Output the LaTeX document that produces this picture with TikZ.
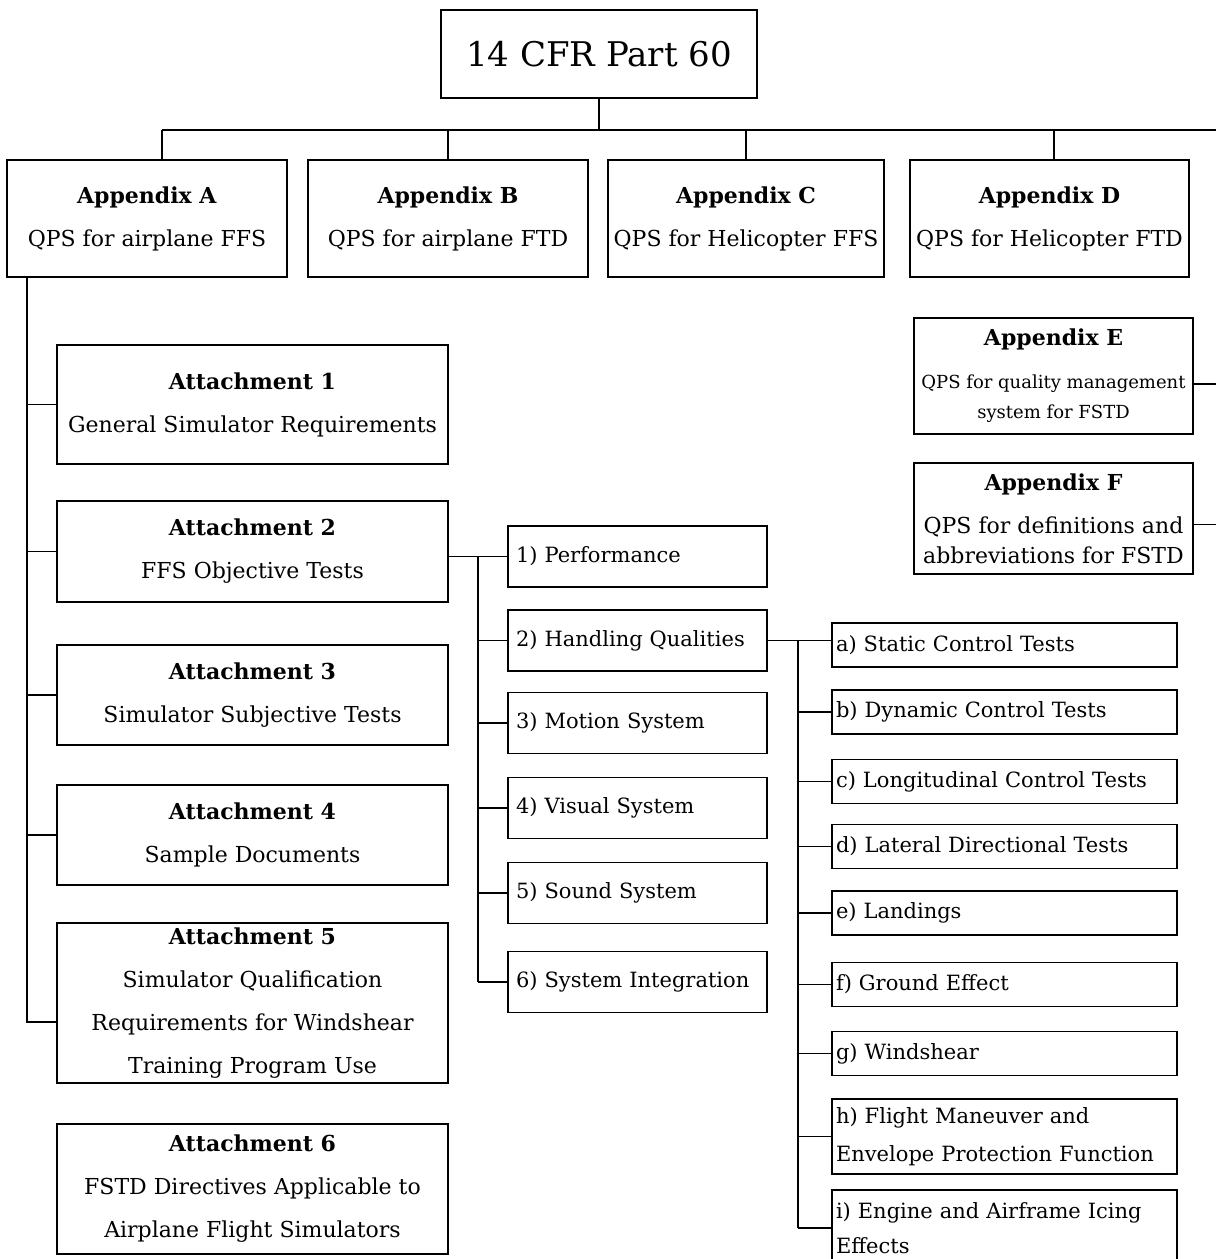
\documentclass[tikz,border=0pt]{standalone}
\usepackage{fontspec}
\setmainfont{DejaVu Serif}
\tikzset{
  box/.style={draw, inner sep=0pt, align=center, font=\fontsize{22}{43}\selectfont},
  sidebox/.style={draw, inner sep=0pt, align=center, minimum width=279, minimum height=116, font=\fontsize{22}{30}\selectfont},
  numbox/.style={draw, inner xsep=8pt, inner ysep=0pt, text width=243, minimum height=61, align=left, font=\fontsize{21}{38}\selectfont},
  letbox/.style={draw, inner xsep=4pt, inner ysep=0pt, text width=337, minimum height=#1, align=left, font=\fontsize{21}{38}\selectfont},
  letbox/.default=44
}
\newcommand{\smallside}{\fontsize{18}{30}\selectfont}
\begin{document}
\begin{tikzpicture}[x=1pt,y=-1pt,line width=1.6pt]
\useasboundingbox (0,0) rectangle (1216,1259);
\node [box, minimum width=316, minimum height=88, font=\fontsize{34}{40}\selectfont] (cfr) at (599,54) {14 CFR Part 60};
\path (162,130) coordinate (busL) -- (1216,130) coordinate (busR);
\draw (cfr.south) -- (cfr.south |- busL) (busL) -- (busR);

\node [box, minimum width=280, minimum height=117] (appA) at (147,218.5) {\textbf{Appendix A}\\QPS for airplane FFS};
\node [box, minimum width=280, minimum height=117] (appB) at (448,218.5) {\textbf{Appendix B}\\QPS for airplane FTD};
\node [box, minimum width=276, minimum height=117] (appC) at (746,218.5) {\textbf{Appendix C}\\QPS for Helicopter FFS};
\node [box, minimum width=279, minimum height=117] (appD) at (1049.5,218.5) {\textbf{Appendix D}\\QPS for Helicopter FTD};
\foreach \n/\s in {appA/15,appB/0,appC/0,appD/4.5}
  \draw ([xshift=\s pt]\n.north) -- ([xshift=\s pt]\n.north |- busL);

\node [sidebox] (appE) at (1053.5,376) {\textbf{Appendix E}\\[13pt]\smallside QPS for quality management\\\smallside system for FSTD};
\node [sidebox, minimum height=111] (appF) at (1053.5,518.5) {\textbf{Appendix F}\\[13pt]QPS for definitions and\\abbreviations for FSTD};
\draw ([yshift=-8pt]appE.east) -- ([yshift=-8pt]appE.east -| busR);
\draw ([yshift=-6pt]appF.east) -- ([yshift=-6pt]appF.east -| busR);

\node [box, minimum width=391, minimum height=119] (att1) at (252.5,404.5) {\textbf{Attachment 1}\\General Simulator Requirements};
\node [box, minimum width=391, minimum height=101] (att2) at (252.5,551.5) {\textbf{Attachment 2}\\FFS Objective Tests};
\node [box, minimum width=391, minimum height=100] (att3) at (252.5,695) {\textbf{Attachment 3}\\Simulator Subjective Tests};
\node [box, minimum width=391, minimum height=100] (att4) at (252.5,835) {\textbf{Attachment 4}\\Sample Documents};
\node [box, minimum width=391, minimum height=160] (att5) at (252.5,1003) {\textbf{Attachment 5}\\Simulator Qualification\\Requirements for Windshear\\Training Program Use};
\node [box, minimum width=391, minimum height=130] (att6) at (252.5,1189) {\textbf{Attachment 6}\\FSTD Directives Applicable to\\Airplane Flight Simulators};
\coordinate (sp1) at (27,277);
\draw (sp1) |- ([yshift=-19pt]att5.west);
\foreach \n in {att1,att2,att3,att4} \draw (sp1 |- \n.west) -- (\n.west);

\foreach \n/\y/\t in {perf/556.5/1) Performance, hand/640.5/2) Handling Qualities, motion/723/3) Motion System,
    visual/808/4) Visual System, sound/893/5) Sound System, integ/982/6) System Integration}
  \node [numbox] (\n) at (637.5,\y) {\t};
\coordinate (sp2) at (478,556.5);
\draw (att2.east |- perf.west) -- (perf.west) (sp2) -- (sp2 |- integ.west);
\foreach \n in {hand,motion,visual,sound,integ} \draw (sp2 |- \n.west) -- (\n.west);

\foreach \n/\y/\t in {la/645/a) Static Control Tests, lb/712/b) Dynamic Control Tests, lc/781.5/c) Longitudinal Control Tests,
    ld/846.5/d) Lateral Directional Tests, le/913/e) Landings, lf/984.5/f) Ground Effect, lg/1053.5/g) Windshear}
  \node [letbox] (\n) at (1004.5,\y) {\t};
\node [letbox=75] (lh) at (1004.5,1136.5) {h) Flight Maneuver and\\Envelope Protection Function};
\node [letbox=76, font=\fontsize{21}{35}\selectfont] (li) at (1004.5,1228) {\makebox[337pt][s]{i) Engine and Airframe Icing}\\Effects};
\coordinate (sp3) at (798,640.5);
\draw (hand.east) -- (hand.east -| la.west) (sp3) -- (sp3 |- li.west);
\foreach \n in {lb,lc,ld,le,lf,lg,lh,li} \draw (sp3 |- \n.west) -- (\n.west);
\end{tikzpicture}
\end{document}
